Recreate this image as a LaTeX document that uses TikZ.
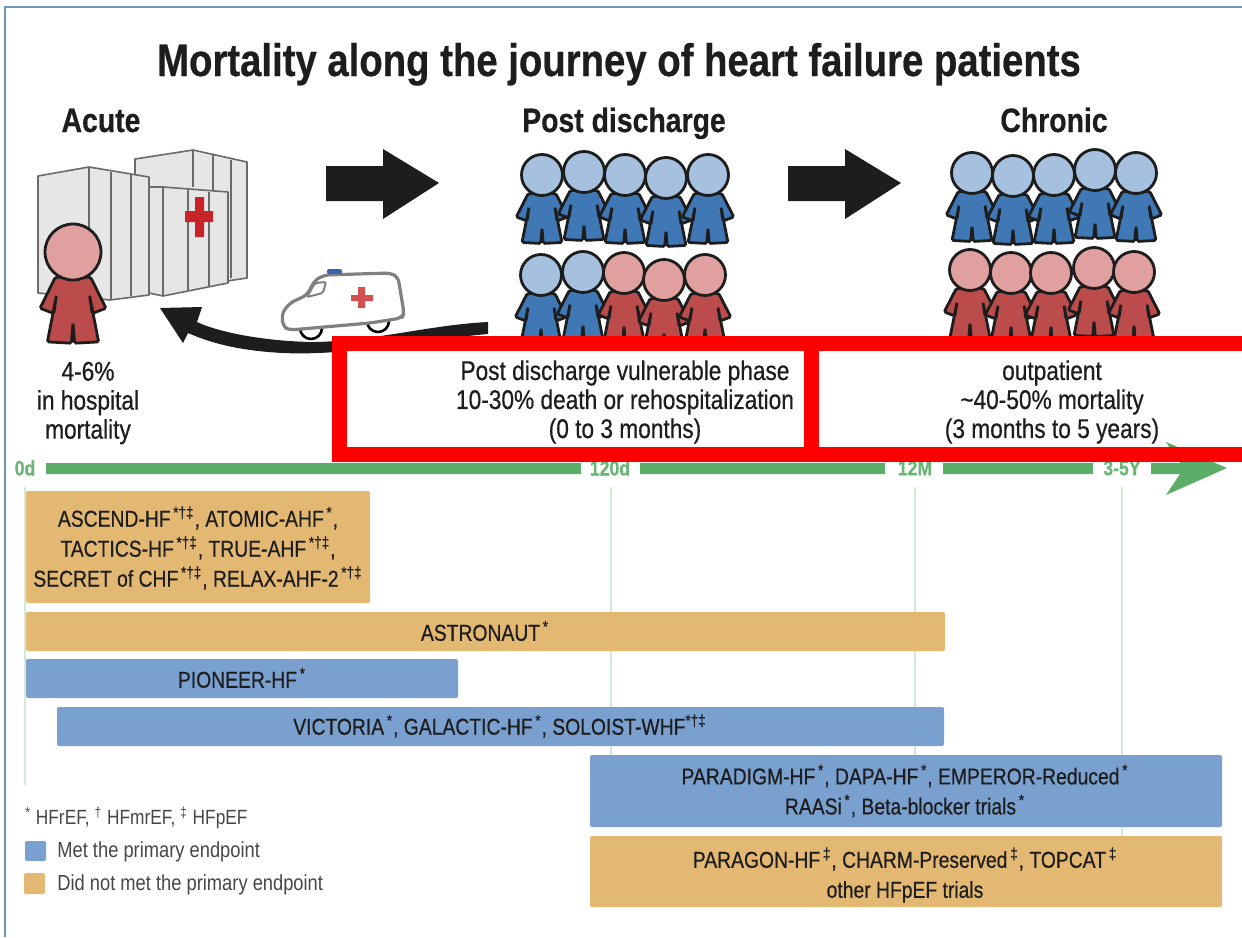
\documentclass[tikz,border=0pt]{standalone}
\usepackage{fontspec}
\setmainfont[FakeStretch=0.84,FakeBold=0.5]{Liberation Sans}
\newfontfamily\plainfont[FakeStretch=0.84]{Liberation Sans}
\definecolor{tanbar}{HTML}{E3B873}
\definecolor{bluebar}{HTML}{7AA0CF}
\definecolor{tgreen}{HTML}{5BAD68}
\definecolor{lgreen}{HTML}{D5E8D6}
\definecolor{bluebody}{HTML}{3F78B5}
\definecolor{bluehead}{HTML}{A5C1DF}
\definecolor{redbody}{HTML}{BC4B4B}
\definecolor{redhead}{HTML}{E0A0A0}
\definecolor{bldg}{HTML}{E6E6E6}
\definecolor{bldgline}{HTML}{6A6A6A}
\definecolor{inkk}{HTML}{1D1D1D}
\newcommand{\manfig}[7]{% x, y, r, halfwidth, bodyheight, body colour, head colour
  \begin{scope}[shift={(#1,#2)}]
    \begin{scope}[yshift=-#3*0.45pt]
      \begin{scope}[xscale=#4,yscale=#5]
        \draw[fill=#6,draw=inkk,line width=1.4pt,rounded corners=0.8pt]
          (-0.55,0)--(-1.03,0.47)--(-0.6,0.55)--(-0.52,0.28)--(-0.8,0.98)--(-0.05,1)--(0,0.7)--(0.05,1)--(0.8,0.98)--(0.52,0.28)--(0.6,0.55)--(1.03,0.47)--(0.55,0)--cycle;
      \end{scope}
    \end{scope}
    \draw[fill=#7,draw=inkk,line width=1.4pt] (0,0) circle[radius=#3];
  \end{scope}}
\newcommand{\supmarks}[1]{\textsuperscript{\,#1}}
\tikzset{
  x=0.5pt,y=-0.5pt,
  title/.style={font=\bfseries\fontsize{22.8}{24}\selectfont,text=inkk,inner sep=0,anchor=base},
  heading/.style={font=\bfseries\fontsize{16.9}{20}\selectfont,text=inkk,inner sep=0,anchor=base},
  phase/.style={font=\fontsize{13.5}{14.5}\selectfont,text=inkk,align=center,inner sep=0},
  bartext/.style={font=\fontsize{11.5}{15}\selectfont,text=inkk,align=center,inner sep=0},
  legendtext/.style={font=\plainfont\fontsize{10.9}{12}\selectfont,text=black!72,inner sep=0,anchor=west},
  tick/.style={font=\bfseries\fontsize{10.5}{12}\selectfont,text=tgreen!90,inner sep=0},
  tanbox/.style={fill=tanbar,rounded corners=1pt},
  bluebox/.style={fill=bluebar,rounded corners=1pt},
  gridline/.style={draw=lgreen,line width=0.8pt},
  hline/.style={draw=bldgline,line width=0.8pt},
  block/.style={fill=inkk},
  redframe/.style={draw={rgb,255:red,255;green,0;blue,0},line width=7.5pt},
}
\begin{document}
\begin{tikzpicture}
\useasboundingbox (0,0) rectangle (1242,937);
% frame
\draw[draw=black!0,fill=white] (0,0) rectangle (1242,937);
\draw[draw={rgb,255:red,110;green,150;blue,185},line width=1pt] (5,937)--(5,7)--(1242,7);
% headings
\node[title] (ttl) at (619,76) {Mortality along the journey of heart failure patients};
\node[heading] (acute) at (101,132) {Acute};
\node[heading] (post) at (624,132) {Post discharge};
\node[heading] (chronic) at (1054,132) {Chronic};
% hospital
\draw[hline,fill=bldg,line join=round] (135,159)--(193,150)--(247,162)--(247,278)--(135,295)--cycle;
\draw[hline] (193,150)--(193,187) (213,155)--(213,192) (231,160)--(231,278);
\draw[hline,fill=bldg,line join=round] (38,176)--(89,167)--(149,177)--(149,295)--(110,300)--(38,293)--cycle;
\draw[hline] (89,167)--(89,290) (111,172)--(111,300) (131,174)--(131,296);
\draw[hline,fill=bldg,line join=round] (149,187)--(163,187)--(228,192)--(228,283)--(163,296)--(149,293)--cycle;
\draw[draw=bldgline,line width=1pt] (163,187)--(163,296);
\draw[hline] (188,190)--(188,290) (209,192)--(209,287);
\fill[fill={rgb,255:red,200;green,35;blue,40}] (195,197) rectangle (204,237) (185,211) rectangle (213,222);
% block arrows
\fill[block] (326,166)--(383,166)--(383,149)--(439,183)--(383,219)--(383,201)--(326,201)--cycle;
\fill[block] (788,166)--(845,166)--(845,149)--(901,183)--(845,219)--(845,201)--(788,201)--cycle;
% return arrow
\fill[block] (488,322)--(488,334) .. controls (420,340) and (350,356) .. (283,353)
  .. controls (245,351) and (215,345) .. (188,333)--(183,343)--(160,308)--(202,307)--(197,322)
  .. controls (220,333) and (270,342) .. (317,342) .. controls (380,340) and (430,325) .. (488,322)--cycle;
% ambulance
\fill[white] (300,331) arc[start angle=180,end angle=0,radius=11]--cycle;
\fill[white] (367,324) arc[start angle=180,end angle=0,radius=11]--cycle;
\draw[draw=black,line width=1.3pt] (300,328) arc[start angle=180,end angle=0,radius=11];
\draw[draw=black,line width=1.3pt] (367,321) arc[start angle=180,end angle=0,radius=11];
\draw[draw=black!50,fill=white,line width=1.6pt,rounded corners=2.5pt,line join=round]
  (283,327)--(282,313)--(290,303)--(307,295)--(315,280)--(325,275)--(390,273)--(398,277)--(404,313)--(402,318)--(370,323)--(290,330)--cycle;
\draw[draw=black!50,line width=1pt,rounded corners=1pt] (307,297)--(315,283)--(326,282)--(323,293)--cycle;
\fill[fill={rgb,255:red,65;green,95;blue,175},rounded corners=1pt] (327,269) rectangle (342,274);
\fill[fill={rgb,255:red,210;green,80;blue,80}] (358,287) rectangle (365,308) (351,295) rectangle (373,301);
% acute person
\manfig{73}{252}{28}{32}{66}{redbody}{redhead}
% post discharge people
\manfig{542}{175}{20.5}{25}{50}{bluebody}{bluehead}
\manfig{584}{172}{20.5}{25}{50}{bluebody}{bluehead}
\manfig{625}{175}{20.5}{25}{50}{bluebody}{bluehead}
\manfig{666}{178}{20.5}{25}{50}{bluebody}{bluehead}
\manfig{708}{175}{20.5}{25}{50}{bluebody}{bluehead}
\manfig{541}{275}{20.5}{25}{50}{bluebody}{bluehead}
\manfig{583}{272}{20.5}{25}{50}{bluebody}{bluehead}
\manfig{624}{273}{20.5}{25}{50}{redbody}{redhead}
\manfig{664}{280}{20.5}{25}{50}{redbody}{redhead}
\manfig{705}{275}{20.5}{25}{50}{redbody}{redhead}
% chronic people
\manfig{972}{173}{20.5}{25}{50}{bluebody}{bluehead}
\manfig{1013}{176}{20.5}{25}{50}{bluebody}{bluehead}
\manfig{1054}{175}{20.5}{25}{50}{bluebody}{bluehead}
\manfig{1095}{170}{20.5}{25}{50}{bluebody}{bluehead}
\manfig{1136}{173}{20.5}{25}{50}{bluebody}{bluehead}
\manfig{970}{270}{20.5}{25}{50}{redbody}{redhead}
\manfig{1011}{273}{20.5}{25}{50}{redbody}{redhead}
\manfig{1051}{273}{20.5}{25}{50}{redbody}{redhead}
\manfig{1094}{268}{20.5}{25}{50}{redbody}{redhead}
\manfig{1134}{272}{20.5}{25}{50}{redbody}{redhead}
% phase texts
\node[phase] (ph1) at (88,403) {4-6\%\\in hospital\\mortality};
\node[phase] (ph2) at (625,402) {Post discharge vulnerable phase\\10-30\% death or rehospitalization\\(0 to 3 months)};
\node[phase] (ph3) at (1052,402) {outpatient\\\textasciitilde40-50\% mortality\\(3 months to 5 years)};
% timeline
\fill[fill=tgreen] (46,463) rectangle (581,474) (640,463) rectangle (885,474) (943,463) rectangle (1093,474);
\fill[fill=tgreen] (1151,463)--(1180,463)--(1166,442)--(1227,468)--(1166,495)--(1180,474)--(1151,474)--cycle;
\node[tick] (t0) at (25,468) {0d};
\node[tick] (t1) at (610,468) {120d};
\node[tick] (t2) at (915,468) {12M};
\node[tick] (t3) at (1122,468) {3-5Y};
% grid lines
\draw[gridline] (25,487)--(25,785) (611,487)--(611,760) (915,487)--(915,760) (1122,487)--(1122,836);
% bars
\fill[tanbox] (26,491) rectangle (370,603);
\node[bartext] (b1) at (198,548) {ASCEND-HF\supmarks{*†‡}, ATOMIC-AHF\supmarks{*},\\TACTICS-HF\supmarks{*†‡}, TRUE-AHF\supmarks{*†‡},\\SECRET of CHF\supmarks{*†‡}, RELAX-AHF-2\supmarks{*†‡}};
\fill[tanbox] (26,612) rectangle (945,651);
\node[bartext] (b2) at (485,631) {ASTRONAUT\supmarks{*}};
\fill[bluebox] (26,659) rectangle (458,698);
\node[bartext] (b3) at (242,678) {PIONEER-HF\supmarks{*}};
\fill[bluebox] (57,707) rectangle (944,746);
\node[bartext] (b4) at (500,726) {VICTORIA\supmarks{*}, GALACTIC-HF\supmarks{*}, SOLOIST-WHF\textsuperscript{*†‡}};
\fill[bluebox] (590,755) rectangle (1222,827);
\node[bartext] (b5) at (905,791) {PARADIGM-HF\supmarks{*}, DAPA-HF\supmarks{*}, EMPEROR-Reduced\supmarks{*}\\RAASi\supmarks{*}, Beta-blocker trials\supmarks{*}};
\fill[tanbox] (590,836) rectangle (1222,907);
\node[bartext] (b6) at (905,875) {PARAGON-HF\supmarks{‡}, CHARM-Preserved\supmarks{‡}, TOPCAT\supmarks{‡}\\other HFpEF trials};
% legend
\node[legendtext,font=\plainfont\fontsize{10.3}{12}\selectfont] (l0) at (25,818) {\textsuperscript{*} HFrEF, \textsuperscript{†} HFmrEF, \textsuperscript{‡} HFpEF};
\fill[bluebox] (25,841) rectangle (46,861);
\node[legendtext] (l1) at (57,852) {Met the primary endpoint};
\fill[tanbox] (24,873) rectangle (45,894);
\node[legendtext] (l2) at (57,885) {Did not met the primary endpoint};
% red frames
\draw[redframe] (339.5,343.5) rectangle (811,454.5);
\draw[redframe] (811,343.5) rectangle (1260,454.5);
\end{tikzpicture}
\end{document}
